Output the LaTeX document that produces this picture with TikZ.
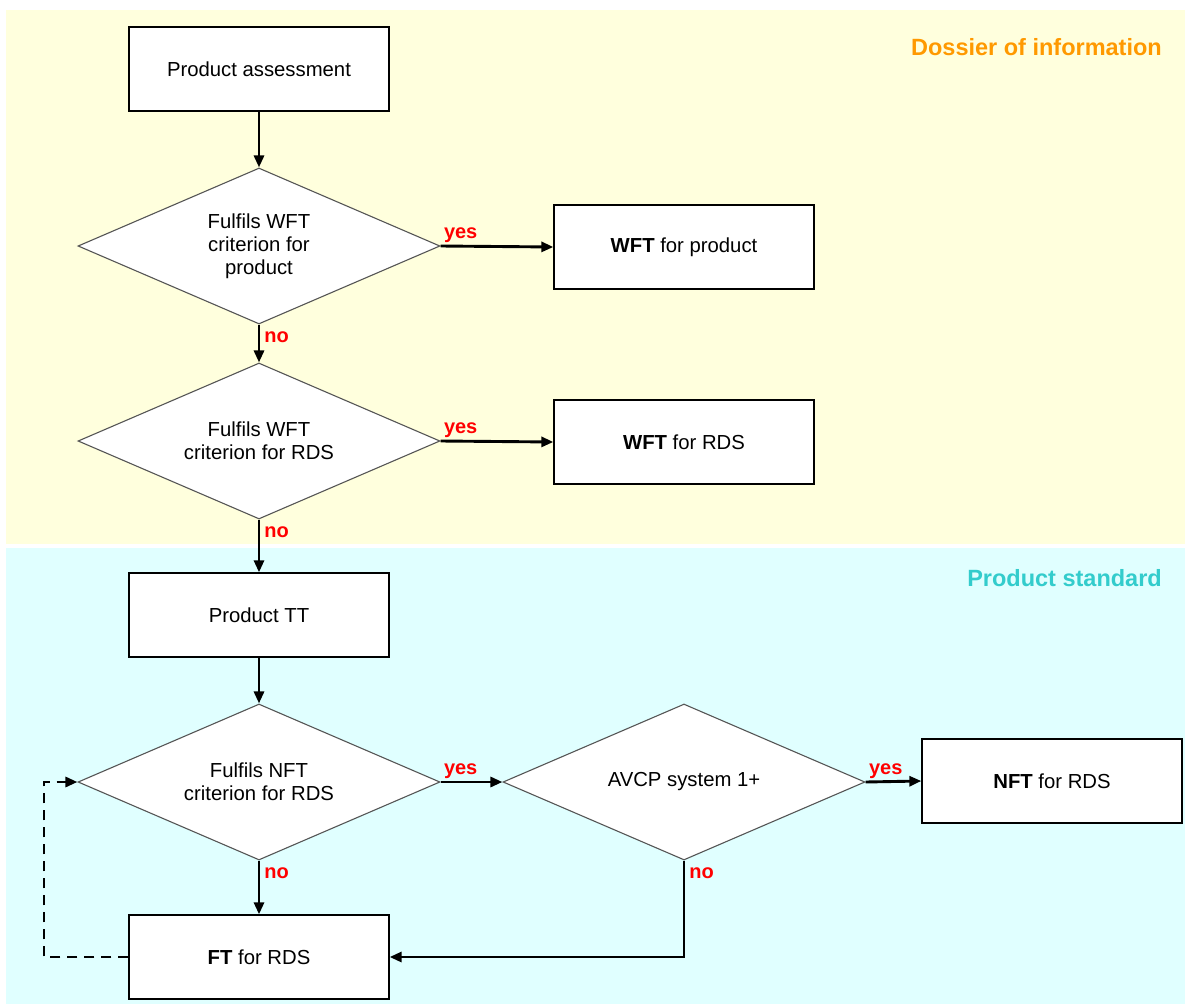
\documentclass[tikz,border=0pt]{standalone}
\usepackage{fontspec}
\setmainfont{Liberation Sans}
\usetikzlibrary{shapes.geometric,arrows.meta}
\definecolor{dossierbg}{HTML}{FFFFDD}
\definecolor{standardbg}{HTML}{E0FFFF}
\definecolor{dossiertxt}{HTML}{FF9900}
\definecolor{standardtxt}{HTML}{33CCCC}
\definecolor{diamondline}{HTML}{555555}
\begin{document}
\begin{tikzpicture}[>={Triangle[length=12pt,width=10pt]}, x=1pt, y=-1pt,
  font=\fontsize{20.3}{23}\selectfont,
  stepbox/.style={draw, fill=white, line width=1.3pt, minimum width=260pt, minimum height=84pt, align=center},
  test/.style={diamond, draw=diamondline, fill=white, line width=1.1pt, shape aspect=2.3, minimum width=362pt, minimum height=156pt, inner sep=0pt, align=center},
  conn/.style={->, line width=2.9pt},
  lab/.style={text=red, font=\fontsize{20}{22}\selectfont\bfseries, inner sep=2pt},
  nolab/.style={lab, anchor=north west, yshift=-4pt, xshift=2pt},
  area/.style={font=\fontsize{23.5}{28}\selectfont\bfseries, anchor=east, inner sep=0pt}]
  \useasboundingbox (0,0) rectangle (1185,1006);
  % areas
  \fill[dossierbg] (6,10) rectangle (1185,544);
  \fill[standardbg] (6,548) rectangle (1185,1004);
  \node[area, text=dossiertxt] (dossier) at (1162,47) {Dossier of information};
  \node[area, text=standardtxt] (standard) at (1162,578) {Product standard};
  % nodes
  \node[stepbox] (assess) at (259,69) {Product assessment};
  \node[test] (wftprod) at (259,246) {Fulfils WFT\\criterion for\\product};
  \node[stepbox] (wftp) at (684,247) {\textbf{WFT} for product};
  \node[test] (wftrds) at (259,441) {Fulfils WFT\\criterion for RDS};
  \node[stepbox] (wftr) at (684,442) {\textbf{WFT} for RDS};
  \node[stepbox] (tt) at (259,615) {Product TT};
  \node[test] (nftrds) at (259,782) {Fulfils NFT\\criterion for RDS};
  \node[test] (avcp) at (684,782) {AVCP system 1+};
  \node[stepbox] (nft) at (1052,781) {\textbf{NFT} for RDS};
  \node[stepbox] (ft) at (259,957) {\textbf{FT} for RDS};
  \coordinate (back) at (44,957);
  % connectors
  \draw[conn] (assess) -- (wftprod);
  \draw[conn] (wftprod.east) -- node[lab, at start, anchor=south west] {yes} (wftp.west);
  \draw[conn] (wftprod.south) -- node[nolab, at start] {no} (wftrds.north);
  \draw[conn] (wftrds.east) -- node[lab, at start, anchor=south west] {yes} (wftr.west);
  \draw[conn] (wftrds.south) -- node[nolab, at start] {no} (tt.north);
  \draw[conn] (tt) -- (nftrds);
  \draw[conn] (nftrds.east) -- node[lab, at start, anchor=south west] {yes} (avcp.west);
  \draw[conn] (avcp.east) -- node[lab, at start, anchor=south west] {yes} (nft.west);
  \draw[conn] (nftrds.south) -- node[nolab, at start] {no} (ft.north);
  \draw[conn] (avcp.south) |- node[nolab, pos=0] {no} (ft.east);
  \draw[conn, dashed, dash pattern=on 10pt off 7pt] (ft.west) -- (back) |- (nftrds.west);
\end{tikzpicture}
\end{document}
